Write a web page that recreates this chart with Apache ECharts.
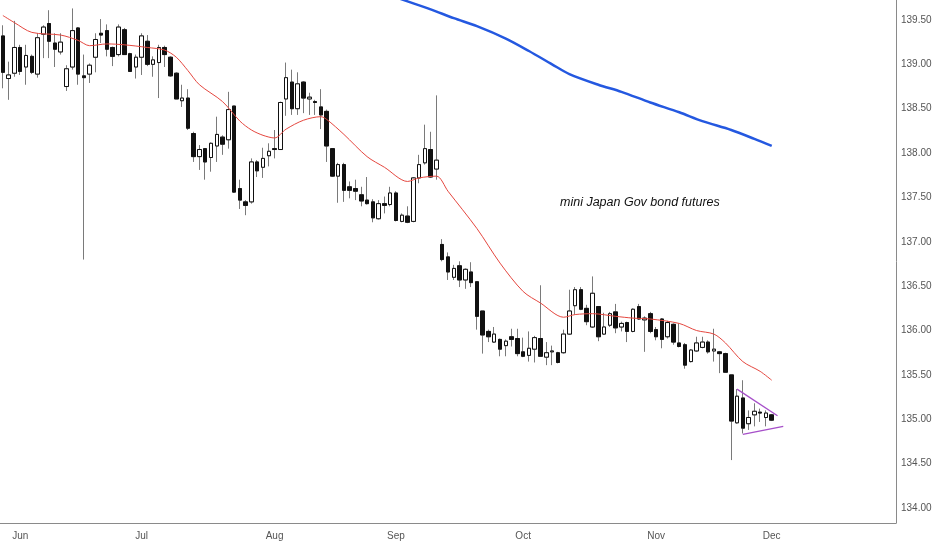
<!DOCTYPE html>
<html>
<head>
<meta charset="utf-8">
<script src="https://cdn.jsdelivr.net/npm/echarts@6/dist/echarts.min.js"></script>
<style>
  html, body { margin: 0; padding: 0; background: #fff; }
  #main { width: 932px; height: 550px; }
</style>
</head>
<body>
<div id="main"></div>
<script>
// daily candles: [open, high, low, close]
var ohlc = [
  [139.32, 139.44, 138.73, 138.91], [138.84, 139.03, 138.60, 138.88], [138.90, 139.49, 138.86, 139.19],
  [139.19, 139.22, 138.88, 138.92], [138.97, 139.22, 138.77, 139.10], [139.09, 139.11, 138.89, 138.91],
  [138.89, 139.35, 138.85, 139.30], [139.34, 139.44, 139.07, 139.42], [139.46, 139.61, 139.07, 139.26],
  [139.24, 139.35, 138.97, 139.17], [139.14, 139.35, 139.11, 139.25], [138.75, 138.99, 138.70, 138.95],
  [138.97, 139.63, 138.94, 139.38], [139.41, 139.42, 138.77, 138.89], [138.87, 139.11, 136.80, 138.85],
  [138.89, 139.01, 138.79, 138.99], [139.08, 139.35, 138.91, 139.28], [139.35, 139.51, 139.24, 139.33],
  [139.38, 139.45, 139.09, 139.17], [139.19, 139.20, 138.98, 139.09], [139.11, 139.45, 139.09, 139.42],
  [139.39, 139.41, 139.11, 139.11], [139.12, 139.13, 138.92, 138.92], [138.97, 139.11, 138.84, 139.08],
  [139.08, 139.35, 138.88, 139.32], [139.26, 139.33, 138.98, 139.00], [139.00, 139.09, 138.86, 139.05],
  [139.02, 139.22, 138.62, 139.19], [139.19, 139.21, 138.97, 139.11], [139.08, 139.09, 138.86, 138.87],
  [138.90, 138.91, 138.61, 138.61], [138.59, 138.77, 138.52, 138.62], [138.62, 138.72, 138.26, 138.28],
  [138.22, 138.24, 137.90, 137.96], [137.96, 138.09, 137.81, 138.04], [138.05, 138.05, 137.70, 137.90],
  [137.95, 138.12, 137.79, 138.11], [138.08, 138.41, 137.90, 138.21], [138.18, 138.20, 137.98, 138.10],
  [138.15, 138.69, 138.05, 138.49], [138.53, 138.53, 137.55, 137.56], [137.60, 137.70, 137.37, 137.47],
  [137.45, 137.47, 137.30, 137.41], [137.45, 137.94, 137.43, 137.90], [137.90, 137.92, 137.73, 137.80],
  [137.84, 138.06, 137.72, 137.94], [137.97, 138.11, 137.85, 138.02], [138.05, 138.26, 137.94, 138.04],
  [138.04, 138.58, 138.04, 138.57], [138.61, 139.02, 138.42, 138.85], [138.80, 138.94, 138.43, 138.50],
  [138.50, 138.91, 138.43, 138.78], [138.80, 138.81, 138.45, 138.62], [138.61, 138.68, 138.43, 138.63],
  [138.58, 138.60, 138.43, 138.57], [138.52, 138.72, 138.27, 138.43], [138.47, 138.49, 137.90, 138.08],
  [138.05, 138.05, 137.73, 137.74], [137.74, 137.89, 137.44, 137.87], [137.87, 137.89, 137.45, 137.58],
  [137.62, 137.68, 137.49, 137.58], [137.60, 137.70, 137.47, 137.57], [137.53, 137.62, 137.40, 137.46],
  [137.47, 137.73, 137.42, 137.43], [137.45, 137.48, 137.22, 137.27], [137.26, 137.47, 137.25, 137.43],
  [137.43, 137.51, 137.32, 137.41], [137.42, 137.62, 137.40, 137.55], [137.55, 137.57, 137.23, 137.24],
  [137.23, 137.32, 137.22, 137.30], [137.29, 137.40, 137.21, 137.22], [137.23, 137.73, 137.22, 137.72],
  [137.72, 137.98, 137.66, 137.87], [137.89, 138.32, 137.87, 138.05], [138.04, 138.24, 137.72, 137.73],
  [137.82, 138.65, 137.70, 137.92], [136.97, 137.03, 136.78, 136.80], [136.83, 136.88, 136.57, 136.66],
  [136.60, 136.74, 136.57, 136.70], [136.73, 136.78, 136.49, 136.57], [136.57, 136.70, 136.47, 136.69],
  [136.66, 136.77, 136.49, 136.54], [136.55, 136.55, 136.01, 136.16], [136.22, 136.22, 135.74, 135.95],
  [135.99, 136.01, 135.87, 135.93], [135.87, 136.04, 135.86, 135.96], [135.90, 135.91, 135.71, 135.79],
  [135.83, 135.90, 135.71, 135.88], [135.93, 136.02, 135.82, 135.90], [135.91, 136.02, 135.71, 135.74],
  [135.76, 135.92, 135.70, 135.71], [135.72, 135.99, 135.65, 135.80], [135.79, 135.94, 135.64, 135.92],
  [135.91, 136.51, 135.71, 135.71], [135.70, 135.87, 135.61, 135.75], [135.76, 135.83, 135.61, 135.77],
  [135.75, 135.76, 135.63, 135.64], [135.75, 136.01, 135.74, 135.96], [135.96, 136.46, 135.95, 136.22],
  [136.28, 136.49, 136.18, 136.46], [136.46, 136.49, 136.23, 136.24], [136.25, 136.29, 136.06, 136.10],
  [136.04, 136.61, 136.03, 136.42], [136.27, 136.27, 135.88, 135.93], [135.96, 136.20, 135.95, 136.04],
  [136.06, 136.21, 136.04, 136.19], [136.21, 136.30, 135.97, 136.03], [136.04, 136.10, 135.99, 136.08],
  [136.09, 136.10, 135.87, 135.99], [135.99, 136.25, 135.98, 136.24], [136.27, 136.30, 136.12, 136.13],
  [136.12, 136.16, 135.76, 136.14], [136.19, 136.21, 135.97, 135.99], [136.01, 136.04, 135.89, 135.93],
  [136.13, 136.14, 135.80, 135.90], [135.93, 136.11, 135.91, 136.09], [136.07, 136.08, 135.84, 135.87],
  [135.86, 136.08, 135.81, 135.82], [135.84, 135.86, 135.57, 135.61], [135.65, 135.79, 135.64, 135.78],
  [135.77, 135.93, 135.76, 135.86], [135.81, 135.93, 135.80, 135.87], [135.87, 135.89, 135.74, 135.76],
  [135.77, 136.02, 135.65, 135.79], [135.76, 135.77, 135.52, 135.74], [135.74, 135.75, 135.53, 135.53],
  [135.50, 135.50, 134.54, 134.98], [134.96, 135.34, 134.95, 135.26], [135.24, 135.44, 134.84, 134.90],
  [134.95, 135.10, 134.88, 135.02], [135.05, 135.18, 134.92, 135.09], [135.08, 135.12, 134.97, 135.07],
  [135.02, 135.10, 134.92, 135.07], [135.05, 135.06, 134.98, 134.99]
];

// short moving average (red): [bar index, value]
var maShort = [
  [0, 139.55], [2, 139.47], [5, 139.36], [10, 139.33], [13, 139.27], [15, 139.21], [18, 139.23],
  [21, 139.22], [25, 139.19], [28, 139.16], [30, 139.08], [32, 138.93], [34, 138.77], [38, 138.58],
  [41, 138.36], [43, 138.26], [45, 138.20], [47, 138.17], [49, 138.27], [52, 138.37], [55, 138.41],
  [56, 138.38], [59, 138.21], [63, 137.96], [66, 137.84], [70, 137.68], [72, 137.72], [75, 137.74],
  [77, 137.57], [82, 137.15], [86, 136.76], [90, 136.44], [93, 136.31], [97, 136.15], [99, 136.18],
  [102, 136.19], [106, 136.16], [109, 136.14], [112, 136.13], [117, 136.08], [120, 136.00],
  [123, 135.96], [125, 135.86], [128, 135.65], [131, 135.54], [133, 135.44]
];

// long moving average (blue)
var maLong = [
  [66, 139.80], [70, 139.71], [74, 139.62], [78, 139.52], [82, 139.43], [87, 139.29], [91, 139.15],
  [95, 139.00], [98, 138.89], [103, 138.77], [107, 138.69], [112, 138.57], [117, 138.46],
  [121, 138.36], [126, 138.26], [130, 138.16], [133, 138.08]
];

// triangle drawn over the last bars
var triUpper = [[127, 135.34], [134, 135.04]];
var triLower = [[128, 134.83], [135, 134.92]];

var monthTicks = { 3: 'Jun', 24: 'Jul', 47: 'Aug', 68: 'Sep', 90: 'Oct', 113: 'Nov', 133: 'Dec' };
var priceTicks = [134, 134.5, 135, 135.5, 136, 136.5, 137, 137.5, 138, 138.5, 139, 139.5];
var slotCount = 155; // bars plus empty space on the right

var categories = [];
for (var i = 0; i < slotCount; i++) categories.push(String(i));

// wick series uses full range, body series has no wicks
var wickData = ohlc.map(function(d) { return [d[0], d[3], d[2], d[1]]; });
var bodyData = ohlc.map(function(d) {
  return [d[0], d[3], Math.min(d[0], d[3]), Math.max(d[0], d[3])];
});

var axisFont = "'Liberation Sans', sans-serif";

var myChart = echarts.init(document.getElementById('main'));
var option = {
  backgroundColor: '#ffffff',
  animation: false,
  grid: { left: 0, right: 36, top: 0, bottom: 27, containLabel: false, outerBoundsMode: 'none' },
  xAxis: {
    type: 'category',
    data: categories,
    boundaryGap: true,
    axisLine: { lineStyle: { color: '#8a8a8a', width: 1 } },
    axisTick: { show: false },
    axisLabel: {
      interval: function(index) { return monthTicks[index] != null; },
      formatter: function(v, index) { return monthTicks[index] || ''; },
      color: '#555',
      fontSize: 10,
      fontFamily: axisFont,
      margin: 8
    },
    splitLine: { show: false }
  },
  yAxis: {
    type: 'value',
    position: 'right',
    min: 133.831,
    max: 139.725,
    axisLine: { show: true, lineStyle: { color: '#8a8a8a', width: 1 } },
    axisTick: { show: false },
    splitLine: { show: false },
    axisLabel: {
      customValues: priceTicks,
      formatter: function(v) { return v.toFixed(2); },
      color: '#555',
      fontSize: 10,
      fontFamily: axisFont,
      margin: 5
    }
  },
  graphic: [{
    type: 'text',
    left: 560,
    top: 196,
    style: {
      text: 'mini Japan Gov bond futures',
      fontSize: 12.5,
      fontStyle: 'italic',
      fontFamily: axisFont,
      fill: '#111'
    }
  }],
  series: [
    {
      name: 'wick',
      type: 'candlestick',
      data: wickData,
      barWidth: 4,
      z: 2,
      itemStyle: {
        color: '#ffffff', color0: '#ffffff',
        borderColor: '#7a7a7a', borderColor0: '#7a7a7a', borderWidth: 1
      }
    },
    {
      name: 'body',
      type: 'candlestick',
      data: bodyData,
      barWidth: 4,
      z: 3,
      itemStyle: {
        color: '#ffffff', color0: '#111111',
        borderColor: '#111111', borderColor0: '#111111', borderWidth: 1
      }
    },
    {
      name: 'ma short',
      type: 'line',
      data: maShort,
      smooth: 0.3,
      symbol: 'none',
      z: 4,
      lineStyle: { color: '#e5473f', width: 1 }
    },
    {
      name: 'ma long',
      type: 'line',
      data: maLong,
      smooth: 0.3,
      symbol: 'none',
      z: 4,
      lineStyle: { color: '#2458e0', width: 2.5 }
    },
    {
      name: 'tri upper',
      type: 'line',
      data: triUpper,
      symbol: 'none',
      z: 5,
      lineStyle: { color: '#a64fc9', width: 1.3 }
    },
    {
      name: 'tri lower',
      type: 'line',
      data: triLower,
      symbol: 'none',
      z: 5,
      lineStyle: { color: '#a64fc9', width: 1.3 }
    }
  ]
};
myChart.setOption(option);
</script>
</body>
</html>
